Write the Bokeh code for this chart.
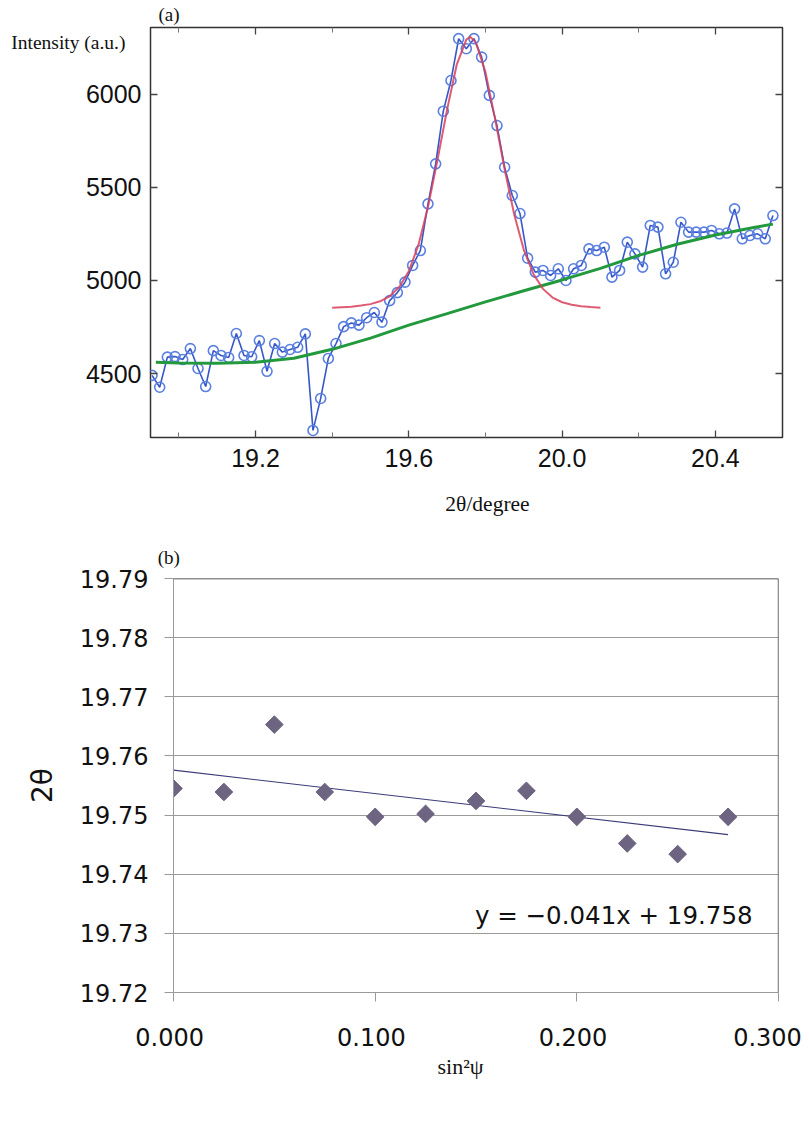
import numpy as np
from bokeh.plotting import figure
from bokeh.models import (Range1d, FixedTicker, LinearAxis, Span,
                          PrintfTickFormatter, Label, CustomLabelingPolicy)
from bokeh.embed import file_html
from bokeh.resources import INLINE

# ---------------- data: panel (a) ----------------
two_theta = [18.93, 18.95, 18.97, 18.99, 19.01, 19.03, 19.05, 19.07, 19.09, 19.11,
             19.13, 19.15, 19.17, 19.19, 19.21, 19.23, 19.25, 19.27, 19.29, 19.31,
             19.33, 19.35, 19.37, 19.39, 19.41, 19.43, 19.45, 19.47, 19.49, 19.51,
             19.53, 19.55, 19.57, 19.59, 19.61, 19.63, 19.65, 19.67, 19.69, 19.71,
             19.73, 19.75, 19.77, 19.79, 19.81, 19.83, 19.85, 19.87, 19.89, 19.91,
             19.93, 19.95, 19.97, 19.99, 20.01, 20.03, 20.05, 20.07, 20.09, 20.11,
             20.13, 20.15, 20.17, 20.19, 20.21, 20.23, 20.25, 20.27, 20.29, 20.31,
             20.33, 20.35, 20.37, 20.39, 20.41, 20.43, 20.45, 20.47, 20.49, 20.51,
             20.53, 20.55]
intensity = [4490, 4426, 4588, 4591, 4575, 4634, 4527, 4430, 4623, 4597,
             4586, 4715, 4597, 4590, 4677, 4512, 4661, 4615, 4629, 4641,
             4713, 4194, 4366, 4581, 4661, 4752, 4772, 4760, 4800, 4828,
             4776, 4892, 4935, 4991, 5081, 5161, 5412, 5627, 5910, 6075,
             6300, 6246, 6300, 6201, 5995, 5833, 5609, 5457, 5360, 5120,
             5045, 5054, 5027, 5063, 5000, 5063, 5081, 5170, 5161, 5179,
             5018, 5054, 5206, 5143, 5072, 5296, 5287, 5036, 5098, 5313,
             5260, 5260, 5260, 5269, 5251, 5255, 5385, 5224, 5242, 5251,
             5224, 5349]

fit_x = [19.400, 19.425, 19.450, 19.475, 19.500, 19.525, 19.550, 19.575, 19.600,
         19.625, 19.650, 19.675, 19.700, 19.725, 19.750, 19.760, 19.775, 19.800,
         19.825, 19.850, 19.875, 19.900, 19.925, 19.950, 19.975, 20.000, 20.025,
         20.050, 20.075, 20.100]
fit_y = [4853, 4856, 4859, 4865, 4873, 4888, 4915, 4965, 5050,
         5190, 5395, 5650, 5920, 6160, 6295, 6310, 6280, 6120,
         5870, 5598, 5355, 5165, 5035, 4955, 4908, 4883, 4870,
         4862, 4857, 4854]

bg_x = [18.94, 19.00, 19.10, 19.20, 19.30, 19.40, 19.50, 19.60, 19.70,
        19.80, 19.90, 20.00, 20.10, 20.20, 20.30, 20.40, 20.50, 20.55]
bg_y = [4560, 4557, 4555, 4560, 4582, 4630, 4690, 4760, 4822,
        4885, 4945, 5003, 5065, 5135, 5195, 5245, 5285, 5303]

a_major_ticks = [19.2, 19.6, 20.0, 20.4]
a_minor_ticks = [19.0, 19.4, 19.8, 20.2]
a_y_ticks = [4500, 5000, 5500, 6000]

# ---------------- data: panel (b) ----------------
sin2psi = [0.000, 0.025, 0.050, 0.075, 0.100, 0.125, 0.150, 0.175, 0.200, 0.225, 0.250, 0.275]
peak_2theta = [19.7545, 19.7539, 19.7653, 19.7539, 19.7497, 19.7502, 19.7524, 19.7541,
               19.7497, 19.7452, 19.7434, 19.7497]
trend_x = [0.000, 0.275]
trend_y = [19.7576, 19.7467]
b_x_ticks = [0.0, 0.1, 0.2, 0.3]
b_y_ticks = [19.72, 19.73, 19.74, 19.75, 19.76, 19.77, 19.78, 19.79]
equation = "y = \u22120.041x + 19.758"

# ---------------- layout geometry (page pixels) ----------------
W = 809
TOP_H = 530
BOT_H = 600
A_L, A_R, A_T, A_B = 150, 782, 27, 437          # frame (a) on page
AX0, AX1 = 18.926, 20.575
AY0, AY1 = 4156, 6360
B_L, B_R, B_T, B_B = 173, 778, 578, 992         # frame (b) on page
BX0, BX1 = 0.0, 0.3
BY0, BY1 = 19.72, 19.79
OFF_B = TOP_H


def ax(px):
    return AX0 + (px - A_L) * (AX1 - AX0) / (A_R - A_L)


def ay(py):
    return AY1 - (py - A_T) * (AY1 - AY0) / (A_B - A_T)


def bx(px):
    return BX0 + (px - B_L) * (BX1 - BX0) / (B_R - B_L)


SERIF = "Liberation Serif"
SANS = "Liberation Sans"

NO_LABELS_JS = """
try {
  for (const i of Array.from(indices)) { indices.unset(i) }
} catch (e) {}
return indices
"""


def text_axis(pos, text, font, size, standoff, style="normal"):
    """An axis with a single tick that only carries a piece of text (a title)."""
    return LinearAxis(ticker=FixedTicker(ticks=[pos], minor_ticks=[]),
                      formatter=PrintfTickFormatter(format=text),
                      axis_line_color=None, major_tick_in=0, major_tick_out=0,
                      minor_tick_in=0, minor_tick_out=0,
                      major_label_text_font=font, major_label_text_font_size=size,
                      major_label_text_font_style=style,
                      major_label_text_color="#111111",
                      major_label_standoff=standoff)


# ================= panel (a) =================
p = figure(width=W, height=TOP_H, output_backend="svg", toolbar_location=None,
           title=None,
           x_range=Range1d(AX0, AX1), y_range=Range1d(AY0, AY1),
           min_border_left=A_L, min_border_right=W - A_R,
           min_border_top=A_T, min_border_bottom=TOP_H - A_B)
p.outline_line_color = "#333333"
p.outline_line_width = 1.5
p.xgrid.visible = False
p.ygrid.visible = False
p.background_fill_color = "white"
p.border_fill_color = "white"

p.xaxis.ticker = FixedTicker(ticks=a_major_ticks, minor_ticks=a_minor_ticks)
p.yaxis.ticker = FixedTicker(ticks=a_y_ticks, minor_ticks=[])
p.xaxis.formatter = PrintfTickFormatter(format="%.1f")
p.yaxis.formatter = PrintfTickFormatter(format="%d")
p.xaxis.major_label_standoff = 11
p.yaxis.major_label_standoff = 9

# mirrored tick marks on top and right (no labels)
top_axis = LinearAxis(ticker=FixedTicker(ticks=a_major_ticks, minor_ticks=a_minor_ticks),
                      major_label_text_font_size="0px", major_label_standoff=0,
                      major_label_policy=CustomLabelingPolicy(code=NO_LABELS_JS))
right_axis = LinearAxis(ticker=FixedTicker(ticks=a_y_ticks, minor_ticks=[]),
                        major_label_text_font_size="0px", major_label_standoff=0,
                        major_label_policy=CustomLabelingPolicy(code=NO_LABELS_JS))
p.add_layout(top_axis, "above")
p.add_layout(right_axis, "right")

for axis in p.axis:
    axis.axis_line_color = None
    axis.major_tick_in = 7
    axis.major_tick_out = 0
    axis.minor_tick_in = 5
    axis.minor_tick_out = 0
    axis.major_tick_line_color = "#444444"
    axis.minor_tick_line_color = "#777777"
    axis.major_tick_line_width = 1.3
    axis.major_label_text_font = SANS
    axis.major_label_text_color = "#111111"
for axis in p.below + p.left:
    axis.major_label_text_font_size = "25px"

# titles carried by one-tick axes (stacked outside the first axes)
p.add_layout(text_axis(ax(168.5), "(a)", SERIF, "19px", 3), "above")
p.add_layout(text_axis(ay(42), "Intensity (a.u.)", SERIF, "19.5px", -43), "left")
p.add_layout(text_axis(ax(487), "2\u03b8/degree", SERIF, "21.5px", 22), "below")

p.line(two_theta, intensity, line_color="#3557c8", line_width=1.6)
p.scatter(two_theta, intensity, marker="circle", size=10, fill_color=None,
          line_color="#5b80e0", line_width=1.6)
p.line(bg_x, bg_y, line_color="#22993c", line_width=3)
p.line(fit_x, fit_y, line_color="#d8405a", line_width=2, line_alpha=0.85)

# ================= panel (b) =================
q = figure(width=W, height=BOT_H, output_backend="svg", toolbar_location=None,
           title=None,
           x_range=Range1d(BX0, BX1), y_range=Range1d(BY0, BY1),
           min_border_left=B_L, min_border_right=W - B_R,
           min_border_top=B_T - OFF_B, min_border_bottom=BOT_H - (B_B - OFF_B))
q.outline_line_color = None
q.background_fill_color = "white"
q.border_fill_color = "white"
q.xgrid.visible = False
q.ygrid.ticker = FixedTicker(ticks=b_y_ticks)
q.ygrid.grid_line_color = "#9a9a9a"
q.ygrid.grid_line_width = 1

q.xaxis.ticker = FixedTicker(ticks=b_x_ticks, minor_ticks=[])
q.yaxis.ticker = FixedTicker(ticks=b_y_ticks, minor_ticks=[])
# trailing no-break space: labels sit a little left of their ticks, as in the original
q.xaxis.formatter = PrintfTickFormatter(format="%.3f\u00a0")
q.yaxis.formatter = PrintfTickFormatter(format="%.2f")
for axis in q.axis:
    axis.axis_line_color = "#9a9a9a"
    axis.axis_line_width = 1
    axis.major_tick_in = 0
    axis.major_tick_out = 9
    axis.minor_tick_in = 0
    axis.minor_tick_out = 0
    axis.major_tick_line_color = "#9a9a9a"
    axis.major_label_text_font = "DejaVu Sans"
    axis.major_label_text_font_size = "24px"
    axis.major_label_text_color = "#111111"
q.yaxis.major_label_standoff = 16
q.xaxis.major_label_standoff = 22
q.yaxis.axis_label = "2\u03b8"
q.yaxis.axis_label_text_font = "DejaVu Sans"
q.yaxis.axis_label_text_font_style = "normal"
q.yaxis.axis_label_text_font_size = "28px"
q.yaxis.axis_label_text_color = "#111111"
q.yaxis.axis_label_standoff = 18

# "(b)" sits just left of the frame corner: tick at x = 0, text padded on the right
q.add_layout(text_axis(BX0, "(b)\u00a0\u00a0", SERIF, "19px", 11), "above")
q.add_layout(text_axis(bx(460), "sin\u00b2\u03c8", SERIF, "22px", -1), "below")

q.add_layout(Span(location=BY1, dimension="width", line_color="#222222", line_width=1.3))
q.add_layout(Span(location=BX1, dimension="height", line_color="#222222", line_width=1.3))

q.line(trend_x, trend_y, line_color="#3a3a78", line_width=1.1)
q.scatter(sin2psi, peak_2theta, marker="square", angle=np.pi / 4, size=12.5,
          fill_color="#6c6481", line_color="#6c6481")

q.add_layout(Label(x=0.1495, y=19.733, text=equation, text_font="DejaVu Sans",
                   text_font_size="24.5px", text_baseline="alphabetic", text_color="#111111"))

open("out.html", "w").write(file_html([p, q], INLINE))
